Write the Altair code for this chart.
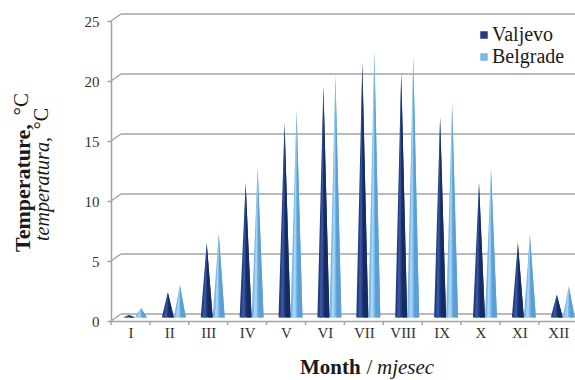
import altair as alt
import pandas as pd

# Monthly mean air temperature, two stations
months = ["I", "II", "III", "IV", "V", "VI", "VII", "VIII", "IX", "X", "XI", "XII"]
series = ["Valjevo", "Belgrade"]
valjevo = [0.2, 2.1, 6.2, 11.2, 16.2, 19.3, 21.2, 20.4, 16.7, 11.2, 6.2, 1.9]
belgrade = [0.8, 2.7, 7.0, 12.5, 17.3, 20.2, 22.2, 21.8, 17.9, 12.4, 6.9, 2.6]
y_ticks = [0, 5, 10, 15, 20, 25]

# ---- layout -------------------------------------------------------------
W, H = 464, 300
PAD = {"left": 111, "top": 21, "right": 0, "bottom": 59}
X_MAX = 12.43
PPU = W / (X_MAX - 0.5)          # pixels per month on the x scale
DEPTH_DX, DEPTH_DY = 10, 7       # front -> back wall shift (pseudo 3-D)
GRID = "#a3a3a3"
FONT = "Liberation Serif, Times New Roman, serif"

# cone placement (pixels from the month centre), converted to x units
cone_shift = {"Valjevo": -1.5 / PPU, "Belgrade": 10.5 / PPU}
cone_half = 6.0 / PPU

# each cone = a base triangle, a darker right flank and a light streak
parts = {"full": (-1.0, 1.0), "shade": (0.15, 1.0), "light": (-0.65, -0.15)}
palette = {
    ("Valjevo", "full"): "#223c80",
    ("Valjevo", "shade"): "#172a62",
    ("Valjevo", "light"): "#3656a0",
    ("Belgrade", "full"): "#77b8e6",
    ("Belgrade", "shade"): "#5b9fd6",
    ("Belgrade", "light"): "#a9d5f3",
}


def triangle(a, b):
    """Vertices (fx, top, bottom) of a triangle with apex at 0 and base [a, b]."""
    if a < 0 < b:
        return [(a, 0, 0), (0, 1, 0), (b, 0, 0)]
    if a >= 0:
        return [(0, 1, 1), (a, 1 - a / b, 0), (b, 0, 0)]
    return [(a, 0, 0), (b, 1 - b / a, 0), (0, 1, 1)]


def cone_table(part):
    a, b = parts[part]
    rows = []
    for name, vals in zip(series, [valjevo, belgrade]):
        for i, v in enumerate(vals):
            centre = i + 1 + cone_shift[name]
            for fx, ft, fb in triangle(a, b):
                rows.append({
                    "cone": f"{name}-{i}", "key": f"{name}|{part}",
                    "px": centre + fx * cone_half,
                    "top": ft * v, "bottom": fb * v,
                })
    return pd.DataFrame(rows)


keys = [f"{s}|{p}" for (s, p) in palette]
colors = list(palette.values())

x_scale = alt.Scale(domain=[0.5, X_MAX], nice=False, zero=False)
y_scale = alt.Scale(domain=[0, 25], nice=False)

label_expr = "[" + ",".join(f"'{m}'" for m in months) + "][datum.value - 1]"
x_axis = alt.Axis(values=list(range(1, 13)), labelExpr=label_expr, ticks=False,
                  grid=False, domainColor=GRID, domainWidth=1.5, labelFont=FONT,
                  labelFontSize=15, labelColor="#333333", labelPadding=4, title=None)
y_axis = alt.Axis(values=y_ticks, grid=False, tickSize=4, tickColor=GRID, tickWidth=1.5,
                  domainColor=GRID, domainWidth=1.5, labelFont=FONT, labelFontSize=15,
                  labelColor="#333333", labelPadding=8, title=None)

# back-wall gridlines and the short diagonals joining them to the front axis
tick_df = pd.DataFrame({"t": y_ticks})
grid = alt.Chart(tick_df).mark_rule(color=GRID, strokeWidth=1.5, yOffset=-DEPTH_DY).encode(
    x=alt.value(DEPTH_DX), x2=alt.value(W),
    y=alt.Y("t:Q", scale=y_scale, axis=y_axis),
)
diag = alt.Chart(tick_df).mark_rule(color=GRID, strokeWidth=1.5, y2Offset=-DEPTH_DY).encode(
    x=alt.value(0), x2=alt.value(DEPTH_DX),
    y=alt.Y("t:Q", scale=y_scale, axis=y_axis), y2="t:Q",
)

# category boundary ticks under the front axis
bounds = pd.DataFrame({"b": [i + 0.5 for i in range(len(months))]})
bticks = alt.Chart(bounds).mark_rule(color=GRID, strokeWidth=1.5).encode(
    x=alt.X("b:Q", scale=x_scale, axis=x_axis), y=alt.value(H), y2=alt.value(H + 4),
)


def cone_layer(part):
    return alt.Chart(cone_table(part)).mark_area(
        opacity=1, yOffset=-DEPTH_DY / 2, y2Offset=-DEPTH_DY / 2
    ).encode(
        x=alt.X("px:Q", scale=x_scale, axis=x_axis),
        y=alt.Y("top:Q", scale=y_scale, axis=y_axis),
        y2="bottom:Q",
        color=alt.Color("key:N", scale=alt.Scale(domain=keys, range=colors), legend=None),
        detail="cone:N",
    )


one = alt.Data(values=[{}])


def label(text, x, y, size=21, **kw):
    return alt.Chart(one).mark_text(text=text, font=FONT, fontSize=size, color="#1a1a1a",
                                    baseline="alphabetic", **kw).encode(
        x=alt.value(x), y=alt.value(y))


titles = [
    label("Month", 189, 353, align="left", fontWeight="bold"),
    label("/", 258.5, 353, align="center"),
    label("mjesec", 266, 353, align="left", fontStyle="italic"),
    label("Temperature,", -81, 231, size=22, align="left", fontWeight="bold", angle=270),
    label("°C", -83, 72, align="right", angle=270),
    label("temperatura,", -62, 220, size=20, align="left", fontStyle="italic", angle=270),
    label("°C", -63, 87, size=20, align="right", angle=270),
]

legend_cols = [palette[(s, "full")] for s in series]
legend = []
for i, name in enumerate(series):
    legend.append(alt.Chart(one).mark_square(size=56, color=legend_cols[i], opacity=1).encode(
        x=alt.value(373), y=alt.value(14 + 22 * i)))
    legend.append(alt.Chart(one).mark_text(text=name, font=FONT, fontSize=20, color="#1a1a1a",
                                           align="left", baseline="alphabetic").encode(
        x=alt.value(381), y=alt.value(20 + 21.5 * i)))

chart = alt.layer(
    grid, diag, bticks,
    cone_layer("full"), cone_layer("shade"), cone_layer("light"),
    *titles, *legend,
).properties(
    width=W, height=H,
    autosize=alt.AutoSizeParams(type="none"),
    padding=PAD,
    background="white",
).configure_view(strokeWidth=0)

chart.save("out.html", embed_options={"renderer": "svg", "actions": False})
